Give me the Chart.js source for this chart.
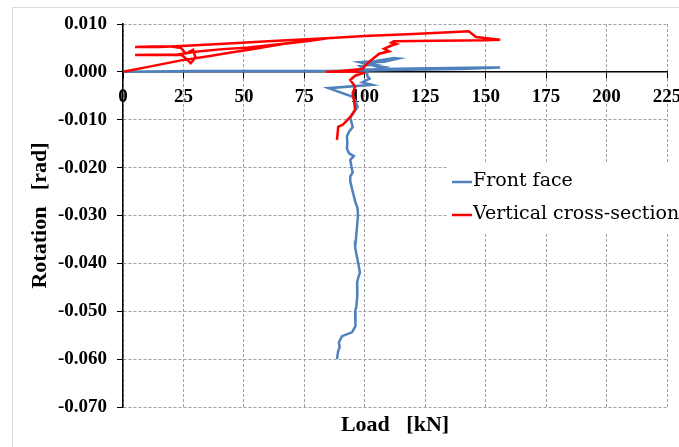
<!DOCTYPE html>
<html><head><meta charset="utf-8">
<script src="https://cdn.jsdelivr.net/npm/chart.js@4.4.0/dist/chart.umd.min.js"></script>
<style>html,body{margin:0;padding:0;background:#fff;overflow:hidden}</style>
</head><body>
<canvas id="c" width="679" height="447"></canvas>
<script>
// ---- data ----
const seriesNames = ['Front face', 'Vertical cross-section'];
const seriesColors = ['#4F81BD', '#FF0000'];

const frontLoad = [0,10,30,60,85,100,110,125,140,156, 150,135,120,108,100,98,104,100,108,114, 112,104,98,104,108,101,101,102,99,103, 85,95,96,97,94,95,93.5,92.6,92.8,92.6, 93.5,95.5,94,94.5,95,94,94,95,96,97, 97.2,96.8,96.5,96.3,96,96.5,97,98,97.3,96.8, 97,96.8,96.5,96,96.3,96,94.7,90.6,89.3,89.6, 88.9,88.5];
const frontRot  = [0,0.0001,0.0002,0.0002,0.0002,0.0003,0.0004,0.0005,0.0006,0.0009, 0.0009,0.0008,0.0007,0.0006,0.0005,0.0012,0.0015,0.0019,0.0021,0.0028, 0.0029,0.0022,0.0020,0.0013,0.0010,0.0002,-0.0008,-0.0014,-0.0022,-0.0027, -0.0034,-0.0052,-0.0060,-0.0073,-0.0096,-0.0115,-0.0125,-0.0135,-0.0148,-0.0160, -0.0170,-0.0176,-0.0184,-0.0198,-0.0210,-0.0218,-0.0229,-0.0250,-0.0270,-0.0285, -0.0300,-0.0323,-0.0340,-0.0352,-0.0365,-0.0380,-0.0392,-0.0419,-0.0430,-0.0440, -0.0455,-0.0469,-0.0490,-0.0502,-0.0515,-0.0531,-0.0544,-0.0552,-0.0565,-0.0575, -0.0585,-0.0600];

const vertLoad = [0,12,24,36,44,54,66,79,86,60, 40,28,24,15,5,12,20,24,26,29, 30,28,26,24,15,5,12,22,30,40, 52,70,86,100,120,135,143,146,156,150, 130,112,111,113,111,108,110,106,104,102, 100,99,90,84,95,99,96,94,96,95, 95.5,96,94,91,89,88.5];
const vertRot  = [0,0.0012,0.0024,0.0033,0.0040,0.0048,0.0058,0.0066,0.0071,0.0064, 0.0058,0.0055,0.0054,0.0052,0.0052,0.0053,0.0053,0.0050,0.0038,0.0046, 0.0030,0.0018,0.0028,0.0036,0.0035,0.0035,0.0036,0.0036,0.0042,0.0047, 0.0051,0.0061,0.0071,0.0075,0.0079,0.0083,0.0085,0.0073,0.0067,0.0066, 0.0065,0.0064,0.0061,0.0058,0.0055,0.0048,0.0043,0.0038,0.0030,0.0022, 0.0012,0.0006,0.0002,0.0000,0.0001,-0.0003,-0.0008,-0.0017,-0.0031,-0.0045, -0.0058,-0.0079,-0.0094,-0.0110,-0.0115,-0.0142];

const xTickValues = [0,25,50,75,100,125,150,175,200,225];
const yTickValues = [0.01,0,-0.01,-0.02,-0.03,-0.04,-0.05,-0.06,-0.07];
const xTitle = 'Load   [kN]';
const yTitle = 'Rotation   [rad]';

// ---- chart ----
const toPts = (xs, ys) => xs.map((x, i) => ({x: x, y: ys[i]}));
const tickFont = {family: '"Liberation Serif", "Times New Roman", serif', size: 19, weight: 'bold'};
const titleFont = {family: '"Liberation Serif", "Times New Roman", serif', size: 22, weight: 'bold'};
const legendFont = '19px "DejaVu Serif", serif';

const decor = {
  id: 'decor',
  beforeDraw(chart) {
    const ctx = chart.ctx;
    ctx.save();
    ctx.fillStyle = '#fff';
    ctx.fillRect(0, 0, chart.width, chart.height);
    ctx.strokeStyle = '#D9D9D9';
    ctx.lineWidth = 1;
    ctx.strokeRect(12.5, 7.5, 760, 520);
    ctx.restore();
  },
  afterDraw(chart) {
    const ctx = chart.ctx;
    ctx.save();
    ctx.fillStyle = '#fff';
    ctx.fillRect(447, 163, 240, 69);
    const ys = [182, 215];
    chart.data.datasets.forEach((ds, i) => {
      ctx.strokeStyle = ds.borderColor;
      ctx.lineWidth = 2.5;
      ctx.beginPath();
      ctx.moveTo(452, ys[i]);
      ctx.lineTo(472, ys[i]);
      ctx.stroke();
      ctx.fillStyle = '#000';
      ctx.font = legendFont;
      ctx.textBaseline = 'middle';
      ctx.textAlign = 'left';
      ctx.fillText(ds.label, 473, ys[i] - 1);
    });
    ctx.restore();
  }
};

new Chart(document.getElementById('c'), {
  type: 'scatter',
  data: {
    datasets: [
      {label: seriesNames[0], data: toPts(frontLoad, frontRot), borderColor: seriesColors[0], backgroundColor: seriesColors[0], showLine: true, pointRadius: 0, borderWidth: 2.5, order: 1},
      {label: seriesNames[1], data: toPts(vertLoad, vertRot), borderColor: seriesColors[1], backgroundColor: seriesColors[1], showLine: true, pointRadius: 0, borderWidth: 2.5, order: 0}
    ]
  },
  options: {
    responsive: false,
    devicePixelRatio: 1,
    animation: false,
    layout: {padding: {left: 0, right: 12, top: 24, bottom: 0}},
    plugins: {legend: {display: false}, tooltip: {enabled: false}},
    scales: {
      x: {
        type: 'linear', position: {y: 0}, min: 0, max: 225,
        afterBuildTicks: s => { s.ticks = xTickValues.map(v => ({value: v})); },
        afterFit: s => { s.paddingLeft = 0; s.paddingRight = 0; },
        ticks: {font: tickFont, color: '#000', padding: 8, maxRotation: 0, autoSkip: false},
        grid: {color: '#A0A0A0', lineWidth: 1, tickLength: 6, tickColor: '#000', tickWidth: 1},
        border: {display: true, color: '#000', width: 1.5, dash: [3, 2]}
      },
      xt: {
        type: 'linear', position: 'bottom', min: 0, max: 1,
        afterFit: s => { s.height = 40; s.paddingLeft = 0; s.paddingRight = 0; },
        ticks: {display: false},
        grid: {display: false, drawTicks: false},
        border: {display: false},
        title: {display: true, text: xTitle, font: titleFont, color: '#000', padding: {top: 0, bottom: 8}}
      },
      y: {
        type: 'linear', position: 'left', min: -0.07, max: 0.01,
        afterBuildTicks: s => { s.ticks = yTickValues.map(v => ({value: v})); },
        afterFit: s => { s.width = 123; },
        ticks: {font: tickFont, color: '#000', padding: 10,
          callback: v => (Math.abs(v) < 1e-9 ? 0 : v).toFixed(3)},
        grid: {color: '#A0A0A0', lineWidth: 1, tickLength: 6, tickColor: '#000', tickWidth: 1},
        border: {display: true, color: '#000', width: 1.5, dash: [3, 2]},
        title: {display: true, text: yTitle, font: titleFont, color: '#000', padding: {top: 27, bottom: 0}}
      }
    }
  },
  plugins: [decor]
});
</script>
</body></html>
